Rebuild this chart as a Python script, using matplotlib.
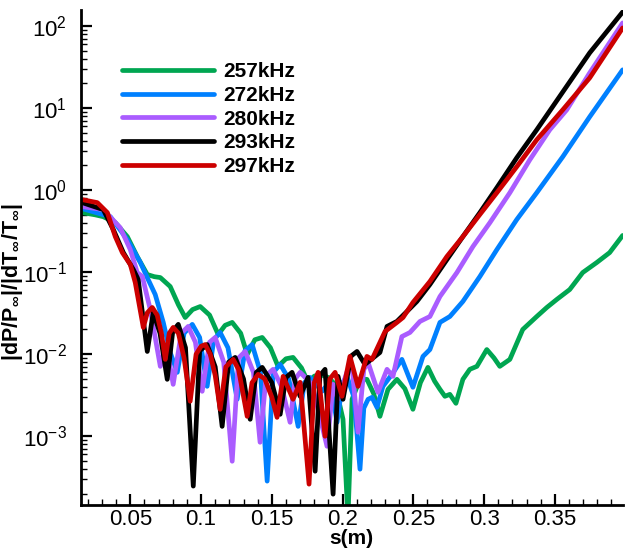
import math
import matplotlib
matplotlib.use("Agg")
import matplotlib.pyplot as plt
from matplotlib.ticker import FixedLocator, MultipleLocator, LogLocator

# values
s_257 = [0.0161, 0.0250, 0.0309, 0.0394, 0.0479, 0.0549, 0.0620, 0.0670, 0.0712, 0.0782,
         0.0840, 0.0888, 0.0940, 0.0994, 0.1060, 0.1121, 0.1170, 0.1220, 0.1280, 0.1326,
         0.1380, 0.1432, 0.1490, 0.1544, 0.1600, 0.1650, 0.1710, 0.1756, 0.1800, 0.1841,
         0.1900, 0.1947, 0.2003, 0.2038, 0.2067, 0.2123, 0.2172, 0.2220, 0.2264, 0.2321,
         0.2384, 0.2440, 0.2497, 0.2550, 0.2603, 0.2650, 0.2688, 0.2723, 0.2758, 0.2801,
         0.2850, 0.2899, 0.2949, 0.3019, 0.3070, 0.3111, 0.3182, 0.3273, 0.3372, 0.3443,
         0.3513, 0.3605, 0.3697, 0.3796, 0.3887, 0.3979]
v_257 = [0.531, 0.500, 0.474, 0.401, 0.271, 0.155, 0.0935, 0.0880, 0.0859, 0.0668,
         0.0400, 0.0280, 0.0350, 0.0381, 0.0300, 0.0174, 0.0225, 0.0244, 0.0180, 0.00993,
         0.0150, 0.0160, 0.0120, 0.00711, 0.00880, 0.00914, 0.00680, 0.00454, 0.00540, 0.00568,
         0.00520, 0.00429, 0.00161, 0.0001, 0.00282, 0.00494, 0.00494, 0.00330, 0.00175, 0.00373,
         0.00494, 0.00380, 0.00213, 0.00450, 0.00691, 0.00470, 0.00373, 0.00307, 0.00324, 0.00252,
         0.00494, 0.00654, 0.00711, 0.0114, 0.00900, 0.00711, 0.00865, 0.0200, 0.0288, 0.0371,
         0.0464, 0.0614, 0.0989, 0.131, 0.173, 0.280]

s_272 = [0.0161, 0.0359, 0.0479, 0.0571, 0.0620, 0.0676, 0.0733, 0.0782, 0.0832, 0.0880,
         0.0938, 0.0990, 0.1043, 0.1090, 0.1135, 0.1190, 0.1255, 0.1310, 0.1361, 0.1420,
         0.1467, 0.1510, 0.1559, 0.1620, 0.1686, 0.1730, 0.1770, 0.1855, 0.1911, 0.1961,
         0.2000, 0.2031, 0.2080, 0.2123, 0.2150, 0.2180, 0.2208, 0.2243, 0.2285, 0.2349,
         0.2419, 0.2497, 0.2568, 0.2617, 0.2688, 0.2758, 0.2850, 0.2970, 0.3090, 0.3231,
         0.3372, 0.3556, 0.3746, 0.3979]
v_272 = [0.594, 0.474, 0.249, 0.131, 0.0857, 0.0534, 0.0244, 0.0105, 0.00601, 0.0180,
         0.0231, 0.0160, 0.00406, 0.0150, 0.0184, 0.0120, 0.00282, 0.0110, 0.0131, 0.00600,
         0.000284, 0.00600, 0.00751, 0.00500, 0.00132, 0.00450, 0.00522, 0.00353, 0.00467, 0.00148,
         0.00450, 0.00537, 0.00300, 0.000397, 0.00220, 0.00282, 0.00298, 0.00225, 0.00406, 0.00568,
         0.00865, 0.00395, 0.00940, 0.0114, 0.0244, 0.0288, 0.0439, 0.0884, 0.188, 0.438,
         0.929, 2.55, 7.81, 29.2]

s_280 = [0.0161, 0.0309, 0.0429, 0.0500, 0.0549, 0.0585, 0.0641, 0.0712, 0.0754, 0.0803,
         0.0860, 0.0909, 0.0960, 0.1008, 0.1060, 0.1100, 0.1160, 0.1220, 0.1265, 0.1312,
         0.1370, 0.1417, 0.1460, 0.1509, 0.1570, 0.1629, 0.1665, 0.1700, 0.1784, 0.1890,
         0.1933, 0.1968, 0.2030, 0.2067, 0.2109, 0.2150, 0.2180, 0.2250, 0.2314, 0.2356,
         0.2419, 0.2476, 0.2547, 0.2617, 0.2688, 0.2808, 0.2921, 0.3041, 0.3182, 0.3323,
         0.3464, 0.3584, 0.3746, 0.3979]
v_280 = [0.628, 0.578, 0.348, 0.188, 0.0989, 0.0884, 0.0351, 0.00711, 0.0131, 0.00429,
         0.0180, 0.0218, 0.0140, 0.00353, 0.0140, 0.0160, 0.00800, 0.000496, 0.00900, 0.0108,
         0.00600, 0.000845, 0.00550, 0.00654, 0.00400, 0.00148, 0.00500, 0.00601, 0.00429, 0.000755,
         0.00429, 0.00282, 0.00600, 0.00711, 0.00112, 0.00650, 0.00794, 0.00343, 0.00654, 0.00537,
         0.0164, 0.0184, 0.0251, 0.0288, 0.0505, 0.0989, 0.205, 0.401, 0.929, 2.34,
         5.43, 9.51, 26.8, 109.0]

s_293 = [0.0161, 0.0309, 0.0380, 0.0451, 0.0521, 0.0556, 0.0620, 0.0662, 0.0710, 0.0761,
         0.0800, 0.0839, 0.0890, 0.0945, 0.0990, 0.1043, 0.1100, 0.1149, 0.1195, 0.1241,
         0.1300, 0.1347, 0.1390, 0.1432, 0.1500, 0.1559, 0.1600, 0.1643, 0.1700, 0.1756,
         0.1806, 0.1840, 0.1876, 0.1933, 0.1968, 0.2003, 0.2060, 0.2102, 0.2158, 0.2264,
         0.2314, 0.2384, 0.2455, 0.2525, 0.2617, 0.2737, 0.2850, 0.2970, 0.3090, 0.3231,
         0.3372, 0.3556, 0.3746, 0.3979]
v_293 = [0.703, 0.578, 0.330, 0.173, 0.108, 0.0812, 0.0108, 0.0322, 0.0180, 0.00494,
         0.0190, 0.0231, 0.0120, 0.000247, 0.0110, 0.0131, 0.00700, 0.00132, 0.00800, 0.00914,
         0.00500, 0.00161, 0.00600, 0.00691, 0.00450, 0.00185, 0.00520, 0.00601, 0.00307, 0.00522,
         0.000375, 0.00550, 0.00654, 0.000197, 0.00537, 0.00282, 0.00950, 0.0108, 0.00751, 0.0105,
         0.0218, 0.0251, 0.0332, 0.0439, 0.0707, 0.142, 0.271, 0.531, 1.07, 2.48,
         5.43, 15.7, 47.0, 148.0]

s_297 = [0.0161, 0.0267, 0.0338, 0.0394, 0.0444, 0.0500, 0.0535, 0.0592, 0.0620, 0.0655,
         0.0690, 0.0720, 0.0747, 0.0775, 0.0803, 0.0840, 0.0880, 0.0923, 0.0965, 0.1000,
         0.1029, 0.1065, 0.1100, 0.1135, 0.1175, 0.1227, 0.1265, 0.1326, 0.1360, 0.1403,
         0.1450, 0.1500, 0.1537, 0.1580, 0.1650, 0.1700, 0.1763, 0.1800, 0.1827, 0.1876,
         0.1910, 0.1947, 0.1996, 0.2052, 0.2109, 0.2172, 0.2208, 0.2300, 0.2384, 0.2427,
         0.2497, 0.2617, 0.2737, 0.2850, 0.2970, 0.3090, 0.3231, 0.3372, 0.3556, 0.3746,
         0.3979]
v_297 = [0.764, 0.703, 0.531, 0.271, 0.173, 0.124, 0.0747, 0.0212, 0.0320, 0.0371,
         0.0300, 0.0180, 0.00865, 0.0180, 0.0212, 0.0180, 0.00900, 0.00267, 0.0100, 0.0125,
         0.0131, 0.0100, 0.00550, 0.00213, 0.00700, 0.00865, 0.00650, 0.00175, 0.00450, 0.00568,
         0.00500, 0.00300, 0.00170, 0.00537, 0.00282, 0.00454, 0.000261, 0.00450, 0.00601, 0.00100,
         0.00500, 0.00601, 0.00307, 0.00940, 0.00406, 0.00940, 0.00865, 0.0189, 0.0244, 0.0280,
         0.0427, 0.0769, 0.155, 0.271, 0.504, 0.929, 1.93, 4.10, 9.51, 23.3,
         94.6]

labels = ["257kHz", "272kHz", "280kHz", "293kHz", "297kHz"]
colors = ["#00A651", "#0080FF", "#AA5CFF", "#000000", "#CC0000"]
x_ticks = [0.05, 0.1, 0.15, 0.2, 0.25, 0.3, 0.35]
y_ticks = [1e-3, 1e-2, 1e-1, 1e0, 1e1, 1e2]

plt.rcParams['font.family'] = ['Liberation Sans', 'DejaVu Sans']
plt.rcParams['mathtext.fontset'] = 'custom'
plt.rcParams['mathtext.rm'] = 'Liberation Sans'
plt.rcParams['mathtext.bf'] = 'Liberation Sans:bold'
plt.rcParams['mathtext.it'] = 'Liberation Sans:italic'

fig = plt.figure(figsize=(6.31, 5.49), dpi=100)
ax = fig.add_axes([0.128, 0.080, 0.859, 0.902])

series = [(s_257, v_257), (s_272, v_272), (s_280, v_280), (s_293, v_293), (s_297, v_297)]
for (s, v), lab, c in zip(series, labels, colors):
    ax.plot(s, v, color=c, lw=3.4, label=lab, solid_joinstyle='round', solid_capstyle='round')

ax.set_yscale('log')
ax.set_xlim(0.015, 0.398)
ax.set_ylim(1.45e-4, 157)

ax.xaxis.set_major_locator(FixedLocator(x_ticks))
ax.xaxis.set_minor_locator(MultipleLocator(0.01))
ax.yaxis.set_major_locator(FixedLocator(y_ticks))
ax.yaxis.set_minor_locator(LogLocator(base=10, subs=range(2, 10), numticks=20))
ax.xaxis.set_major_formatter(plt.FuncFormatter(lambda x, p: ('%g' % round(x, 3))))
ax.yaxis.set_major_formatter(plt.FuncFormatter(
    lambda y, p: r'$\mathdefault{10^{%d}}$' % round(math.log10(y))))

for sp in ['top', 'right']:
    ax.spines[sp].set_visible(False)
for sp in ['left', 'bottom']:
    ax.spines[sp].set_linewidth(2)

ax.tick_params(which='major', direction='in', length=8, width=1.6, labelsize=16)
ax.tick_params(which='minor', direction='in', length=4.3, width=1.0)
ax.tick_params(axis='x', which='major', pad=3)
ax.tick_params(axis='y', which='major', pad=10, labelsize=16)
ax.tick_params(top=False, right=False)

ax.set_xlabel('s(m)', fontsize=15, fontweight='bold', labelpad=-1)
ax.set_ylabel(r'$\mathbf{|dP/P_{\infty}|/|dT_{\infty}/T_{\infty}|}$', fontsize=15.5)
ax.yaxis.set_label_coords(-0.103, 0.45)

leg = ax.legend(loc='upper left', bbox_to_anchor=(122 / 631, 1 - 62 / 549),
                bbox_transform=fig.transFigure, frameon=False,
                prop={'weight': 'bold', 'size': 15}, handlelength=4.4,
                handletextpad=0.45, labelspacing=0.23, borderpad=0, borderaxespad=0)

fig.savefig('out.png', dpi=100)
